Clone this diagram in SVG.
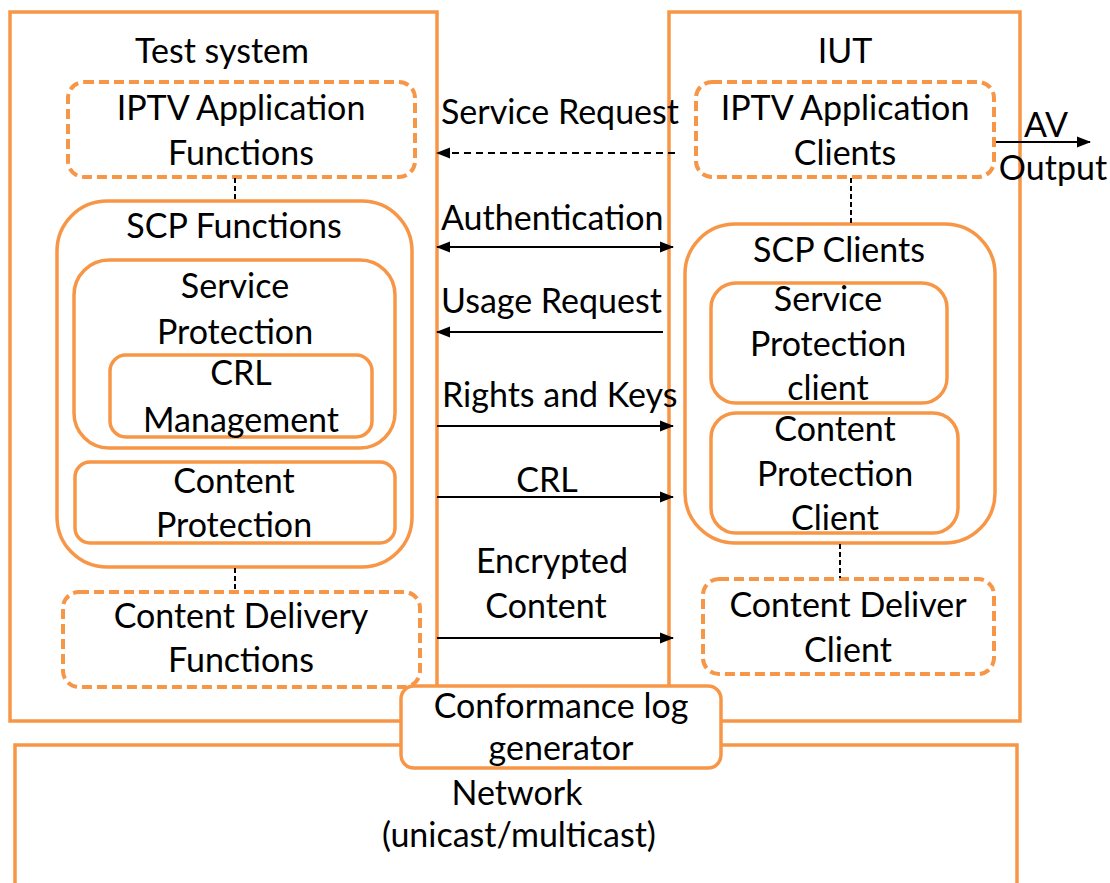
<svg xmlns="http://www.w3.org/2000/svg" width="1110" height="883" viewBox="0 0 1110 883">
<style>
.box{fill:none;stroke:#F79646;stroke-width:3.5}
.rbox{fill:#fff;stroke:#F79646;stroke-width:3.5}
.dbox{fill:none;stroke:#F79646;stroke-width:4;stroke-dasharray:10 5}
.t{font-family:Lato,"Open Sans",sans-serif;font-size:34px;fill:#000;text-anchor:middle}
.s{text-anchor:start}
.arr{stroke:#000;stroke-width:2;fill:none}
.dash{stroke-dasharray:7 5}
.dot{stroke:#000;stroke-width:2;stroke-dasharray:5 3;fill:none}
</style>
<defs>
<marker id="ah" markerUnits="userSpaceOnUse" markerWidth="14" markerHeight="12" viewBox="0 0 14 12" refX="13" refY="6" orient="auto-start-reverse">
<path d="M0,0.5 L14,6 L0,11.5 Z" fill="#000"/>
</marker>
</defs>
<g id="network">
<rect class="box" x="15" y="745" width="1002" height="200"/>
<text class="t" x="517" y="805">Network</text>
<text class="t" x="519" y="847">(unicast/multicast)</text>
</g>
<g id="test-system">
<rect class="box" x="10" y="12" width="427" height="709"/>
<text class="t" x="222" y="63">Test system</text>
</g>
<g id="iut">
<rect class="box" x="669" y="12" width="351" height="709"/>
<text class="t" x="845" y="63">IUT</text>
</g>
<g id="iptv-app-functions">
<rect class="dbox" x="68" y="82" width="347" height="95" rx="16"/>
<text class="t" x="241" y="120">IPTV Application</text>
<text class="t" x="241" y="165">Functions</text>
</g>
<g id="scp-functions">
<rect class="box" x="57" y="201" width="355" height="366" rx="50"/>
<text class="t" x="234" y="238">SCP Functions</text>
</g>
<g id="service-protection">
<rect class="box" x="74" y="260" width="321" height="188" rx="35"/>
<text class="t" x="235" y="298">Service</text>
<text class="t" x="235" y="344">Protection</text>
</g>
<g id="crl-management">
<rect class="box" x="110" y="355" width="262" height="82" rx="16"/>
<text class="t" x="241" y="385">CRL</text>
<text class="t" x="241" y="432">Management</text>
</g>
<g id="content-protection">
<rect class="box" x="75" y="462" width="320" height="81" rx="15"/>
<text class="t" x="234" y="493">Content</text>
<text class="t" x="234" y="537">Protection</text>
</g>
<g id="content-delivery-functions">
<rect class="dbox" x="63" y="592" width="357" height="95" rx="16"/>
<text class="t" x="241" y="628">Content Delivery</text>
<text class="t" x="241" y="672">Functions</text>
</g>
<g id="iptv-app-clients">
<rect class="dbox" x="696" y="82" width="298" height="95" rx="16"/>
<text class="t" x="845" y="120">IPTV Application</text>
<text class="t" x="845" y="165">Clients</text>
</g>
<g id="scp-clients">
<rect class="box" x="685" y="224" width="310" height="319" rx="50"/>
<text class="t" x="839" y="262">SCP Clients</text>
</g>
<g id="service-protection-client">
<rect class="box" x="711" y="283" width="236" height="120" rx="25"/>
<text class="t" x="828" y="311">Service</text>
<text class="t" x="828" y="356">Protection</text>
<text class="t" x="828" y="400">client</text>
</g>
<g id="content-protection-client">
<rect class="box" x="711" y="413" width="247" height="120" rx="25"/>
<text class="t" x="835" y="441">Content</text>
<text class="t" x="835" y="486">Protection</text>
<text class="t" x="835" y="530">Client</text>
</g>
<g id="content-deliver-client">
<rect class="dbox" x="703" y="579" width="291" height="95" rx="16"/>
<text class="t" x="848" y="617">Content Deliver</text>
<text class="t" x="848" y="662">Client</text>
</g>
<g id="conformance-log-generator">
<rect class="rbox" x="401" y="686" width="320" height="82" rx="13"/>
<text class="t" x="561" y="718">Conformance log</text>
<text class="t" x="561" y="760">generator</text>
</g>
<g id="av-output">
<text class="t" x="1046" y="137">AV</text>
<text class="t" x="1053" y="180">Output</text>
</g>
<g id="connectors">
<line class="dot" x1="235" y1="178" x2="235" y2="200"/>
<line class="dot" x1="235" y1="568" x2="235" y2="591"/>
<line class="dot" x1="851" y1="178" x2="851" y2="223"/>
<line class="dot" x1="840" y1="544" x2="840" y2="578"/>
<line class="arr dash" x1="675" y1="153" x2="437" y2="153" marker-end="url(#ah)"/>
<text class="t s" x="441" y="124">Service Request</text>
<line class="arr" x1="437" y1="247" x2="673" y2="247" marker-start="url(#ah)" marker-end="url(#ah)"/>
<text class="t s" x="441" y="230">Authentication</text>
<line class="arr" x1="663" y1="332" x2="437" y2="332" marker-end="url(#ah)"/>
<text class="t s" x="441" y="313">Usage Request</text>
<line class="arr" x1="437" y1="426" x2="673" y2="426" marker-end="url(#ah)"/>
<text class="t s" x="442" y="407">Rights and Keys</text>
<line class="arr" x1="437" y1="497" x2="673" y2="497" marker-end="url(#ah)"/>
<text class="t" x="547" y="492">CRL</text>
<line class="arr" x1="437" y1="638" x2="673" y2="638" marker-end="url(#ah)"/>
<text class="t" x="552" y="573">Encrypted</text>
<text class="t" x="546" y="618">Content</text>
<line class="arr" x1="996" y1="142" x2="1090" y2="142" marker-end="url(#ah)"/>
</g>
</svg>
